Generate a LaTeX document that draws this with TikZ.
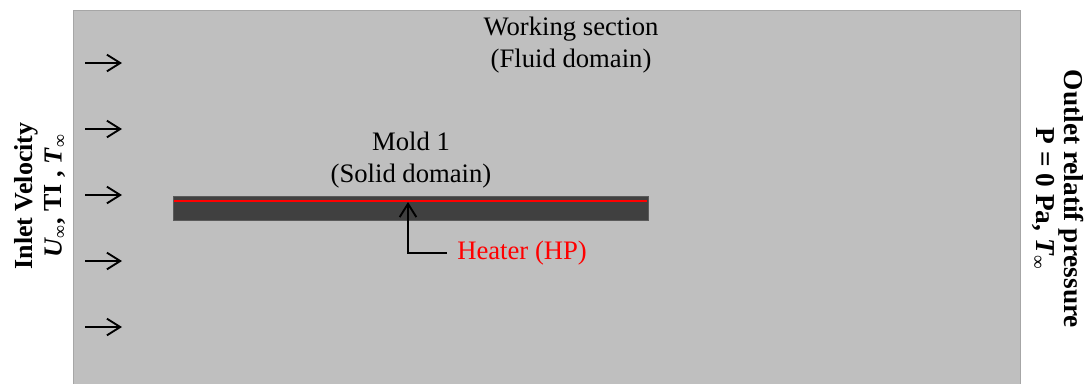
\documentclass[tikz,border=0pt]{standalone}
\usepackage{fontspec}
\setmainfont{Liberation Serif}
\usetikzlibrary{arrows.meta}
\usetikzlibrary{positioning}

\definecolor{fluidgray}{RGB}{191,191,191}
\definecolor{fluidedge}{RGB}{166,166,166}
\definecolor{molddark}{RGB}{64,64,64}
\definecolor{moldedge}{RGB}{90,90,90}
\definecolor{heaterred}{RGB}{255,0,0}

\begin{document}
\begin{tikzpicture}[
    x=0.75pt, y=-0.75pt,
    >={Straight Barb[length=10pt,width=12.5pt]},
    txt/.style={
        inner sep=0pt,
        align=center,
        font=\fontsize{20}{23.5}\selectfont
    },
    bctxt/.style={
        inner sep=0pt,
        align=center,
        font=\fontsize{19.5}{22}\selectfont\bfseries
    },
    flow/.style={
        ->,
        line width=1.4pt
    }
]

\useasboundingbox (0,0) rectangle (1089,383);

%---------------------------------
% Domain and mold
%---------------------------------

% Working section
\draw[fill=fluidgray, draw=fluidedge, line width=0.75pt] (73,10) rectangle (1020,390);

% Mold with heater line
\draw[fill=molddark, draw=moldedge, line width=0.75pt] (173,196) rectangle (648,220);
\coordinate (hpL) at (174,201);
\coordinate (hpR) at (647,201);
\draw[heaterred, line width=1.5pt] (hpL) -- (hpR);

%---------------------------------
% Labels
%---------------------------------

\node[txt] (fluid) at (571,45) {Working section\\(Fluid domain)};
\node[txt] (mold)  at (411,160) {Mold 1\\(Solid domain)};
\node[txt, text=heaterred, anchor=west, inner xsep=7.5pt] (heater) at (447,253) {Heater (HP)};

% Boundary conditions
\node[bctxt, rotate=90] (inlet) at (40,196)
    {Inlet Velocity\\ \textit{U}\textsubscript{\mdseries ∞}, TI , \textit{T}\textsubscript{\mdseries ∞}};
\node[bctxt, rotate=-90, font=\fontsize{20.5}{21}\selectfont\bfseries] (outlet) at (1058,199)
    {Outlet relatif pressure\\ P = 0 Pa, \textit{T}\textsubscript{\mdseries ∞}};

%---------------------------------
% Arrows
%---------------------------------

% Inlet flow
\foreach \yy [count=\i] in {63,129,195,261,327} {
    \coordinate (in\i) at (85,\yy);
    \coordinate (in\i e) at (122,\yy);
    \draw[flow] (in\i) -- (in\i e);
}

% Heater pointer
\coordinate (hptip) at (408,202);
\draw[flow, <-] (hptip) |- (heater.west);

\end{tikzpicture}
\end{document}
